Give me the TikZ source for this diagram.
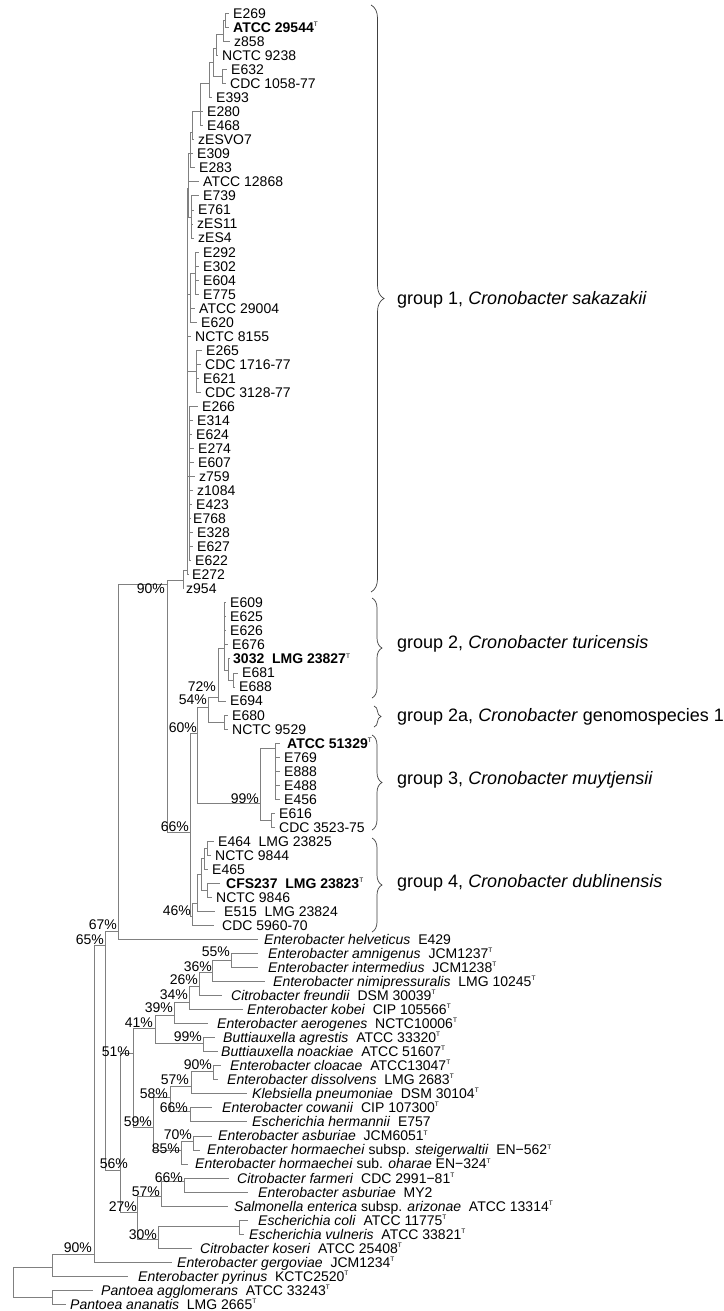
\documentclass[tikz,border=0pt]{standalone}
\usepackage{fontspec}
\setmainfont{Liberation Sans}
\usetikzlibrary{decorations.pathreplacing}
\newcommand\Ty{\raisebox{0.42em}{\fontsize{6.5}{6.5}\selectfont T}}
\newcommand\RR[1]{(13.5+14.03*(#1))}
\newcommand\leaf[5]{\coordinate (#1) at (#2,{13.5+14.03*#4});\node[lbl] (#1t) at (#3,{18.5+14.03*#4}) {#5};}
\newcommand\inode[3]{\coordinate (#1) at (#2,{#3});}
\newcommand\kids[2]{\foreach \c in {#2} {\draw[br] (#1) |- (\c);}}
\begin{document}
\begin{tikzpicture}[x=1pt,y=-1pt,
  lbl/.style={anchor=base west,inner sep=0pt,font=\fontsize{14}{14}\selectfont},
  bs/.style={anchor=east,inner sep=0pt,font=\fontsize{14}{14}\selectfont},
  grp/.style={anchor=west,inner sep=0pt,font=\fontsize{18}{18}\selectfont},
  br/.style={draw=black!50,line width=0.8pt},
  brc/.style={draw=black!75,line width=0.7pt,decorate,decoration={brace,amplitude=#1}}]
\useasboundingbox[fill=white] (0,0) rectangle (723,1311);
% ---------- group 1 leaves
\leaf{a1}{229}{233}{0}{E269}
\leaf{a2}{229}{233}{1}{\textbf{ATCC 29544}\Ty}
\leaf{a3}{230}{234}{2}{z858}
\leaf{a4}{218}{222}{3}{NCTC 9238}
\leaf{a5}{227}{231}{4}{E632}
\leaf{a6}{226}{230}{5}{CDC 1058-77}
\leaf{a7}{212}{216}{6}{E393}
\leaf{a8}{203}{207}{7}{E280}
\leaf{a9}{203}{207}{8}{E468}
\leaf{a10}{194}{198}{9}{zESVO7}
\leaf{a11}{193}{197}{10}{E309}
\leaf{a12}{195}{199}{11}{E283}
\leaf{a13}{199}{203}{12}{ATCC 12868}
\leaf{a14}{199}{203}{13}{E739}
\leaf{a15}{194}{198}{14}{E761}
\leaf{a16}{193}{197}{15}{zES11}
\leaf{a17}{194}{198}{16}{zES4}
\leaf{a18}{199}{203}{17}{E292}
\leaf{a19}{199}{203}{18}{E302}
\leaf{a20}{199}{203}{19}{E604}
\leaf{a21}{199}{203}{20}{E775}
\leaf{a22}{195}{199}{21}{ATCC 29004}
\leaf{a23}{197}{201}{22}{E620}
\leaf{a24}{191}{195}{23}{NCTC 8155}
\leaf{a25}{202}{206}{24}{E265}
\leaf{a26}{201}{205}{25}{CDC 1716-77}
\leaf{a27}{199}{203}{26}{E621}
\leaf{a28}{201}{205}{27}{CDC 3128-77}
\leaf{a29}{198}{202}{28}{E266}
\leaf{a30}{193}{197}{29}{E314}
\leaf{a31}{192}{196}{30}{E624}
\leaf{a32}{194}{198}{31}{E274}
\leaf{a33}{194}{198}{32}{E607}
\leaf{a34}{195}{199}{33}{z759}
\leaf{a35}{193}{197}{34}{z1084}
\leaf{a36}{192}{196}{35}{E423}
\leaf{a37}{190.5}{193}{36}{E768}
\leaf{a38}{193}{197}{37}{E328}
\leaf{a39}{193}{197}{38}{E627}
\leaf{a40}{191}{195}{39}{E622}
\leaf{a41}{189}{192}{40}{E272}
\leaf{a42}{184}{186}{41}{z954}
% ---------- group 2 / 2a
\leaf{b1}{226}{230}{42}{E609}
\leaf{b2}{226}{230}{43}{E625}
\leaf{b3}{226}{230}{44}{E626}
\leaf{b4}{228}{232}{45}{E676}
\leaf{b5}{230}{233}{46}{\textbf{3032\ \ LMG 23827}\Ty}
\leaf{b6}{238}{242}{47}{E681}
\leaf{b7}{235}{239}{48}{E688}
\leaf{b8}{226}{230}{49}{E694}
\leaf{b9}{228}{232}{50}{E680}
\leaf{b10}{228}{232}{51}{NCTC 9529}
% ---------- group 3
\leaf{c1}{280}{287}{52}{\textbf{ATCC 51329}\Ty}
\leaf{c2}{280}{284}{53}{E769}
\leaf{c3}{280}{284}{54}{E888}
\leaf{c4}{280}{284}{55}{E488}
\leaf{c5}{280}{284}{56}{E456}
\leaf{c6}{275}{279}{57}{E616}
\leaf{c7}{275}{279}{58}{CDC 3523-75}
% ---------- group 4
\leaf{d1}{214}{218}{59}{E464\ \ LMG 23825}
\leaf{d2}{211}{215}{60}{NCTC 9844}
\leaf{d3}{208}{212}{61}{E465}
\leaf{d4}{220}{226}{62}{\textbf{CFS237\ \ LMG 23823}\Ty}
\leaf{d5}{212}{216}{63}{NCTC 9846}
\leaf{d6}{215}{224}{64}{E515\ \ LMG 23824}
\leaf{d7}{214}{222}{65}{CDC 5960-70}
% ---------- outgroups
\leaf{e1}{258}{264}{66}{\textit{Enterobacter helveticus}\ \ E429}
\leaf{e2}{258}{268}{67}{\textit{Enterobacter amnigenus}\ \ JCM1237\Ty}
\leaf{e3}{258}{268}{68}{\textit{Enterobacter intermedius}\ \ JCM1238\Ty}
\leaf{e4}{265}{273}{69}{\textit{Enterobacter nimipressuralis}\ \ LMG 10245\Ty}
\leaf{e5}{222}{231}{70}{\textit{Citrobacter freundii}\ \ DSM 30039\Ty}
\leaf{e6}{243}{247}{71}{\textit{Enterobacter kobei}\ \ CIP 105566\Ty}
\leaf{e7}{208}{217}{72}{\textit{Enterobacter aerogenes}\ \ NCTC10006\Ty}
\leaf{e8}{215}{223}{73}{\textit{Buttiauxella agrestis}\ \ ATCC 33320\Ty}
\leaf{e9}{218}{221}{74}{\textit{Buttiauxella noackiae}\ \ ATCC 51607\Ty}
\leaf{e10}{221}{230}{75}{\textit{Enterobacter cloacae}\ \ ATCC13047\Ty}
\leaf{e11}{218}{227}{76}{\textit{Enterobacter dissolvens}\ \ LMG 2683\Ty}
\leaf{e12}{247}{252}{77}{\textit{Klebsiella pneumoniae}\ \ DSM 30104\Ty}
\leaf{e13}{212}{222}{78}{\textit{Enterobacter cowanii}\ \ CIP 107300\Ty}
\leaf{e14}{247}{252}{79}{\textit{Escherichia hermannii}\ \ E757}
\leaf{e15}{212}{218}{80}{\textit{Enterobacter asburiae}\ \ JCM6051\Ty}
\leaf{e16}{200}{207}{81}{\textit{Enterobacter hormaechei} subsp. \textit{steigerwaltii}\ \ EN−562\Ty}
\leaf{e17}{188}{195}{82}{\textit{Enterobacter hormaechei} sub. \textit{oharae} EN−324\Ty}
\leaf{e18}{229}{237}{83}{\textit{Citrobacter farmeri}\ \ CDC 2991−81\Ty}
\leaf{e19}{248}{258}{84}{\textit{Enterobacter asburiae}\ \ MY2}
\leaf{e20}{228}{234}{85}{\textit{Salmonella enterica} subsp. \textit{arizonae}\ \ ATCC 13314\Ty}
\leaf{e21}{248}{258}{86}{\textit{Escherichia coli}\ \ ATCC 11775\Ty}
\leaf{e22}{244}{249}{87}{\textit{Escherichia vulneris}\ \ ATCC 33821\Ty}
\leaf{e23}{192}{200}{88}{\textit{Citrobacter koseri}\ \ ATCC 25408\Ty}
\leaf{e24}{172}{177}{89}{\textit{Enterobacter gergoviae}\ \ JCM1234\Ty}
\leaf{e25}{128}{138}{90}{\textit{Enterobacter pyrinus}\ \ KCTC2520\Ty}
\leaf{e26}{93}{101}{91}{\textit{Pantoea agglomerans}\ \ ATCC 33243\Ty}
\leaf{e27}{66}{70}{92}{\textit{Pantoea ananatis}\ \ LMG 2665\Ty}
% ---------- internal nodes, group 1
\inode{t1}{225}{\RR{0.5}}
\inode{t2}{223}{\RR{1.5}}
\inode{t3}{216}{\RR{2.5}}
\inode{t4}{222}{\RR{4.5}}
\inode{t5}{213}{\RR{3.5}}
\inode{t6}{209}{\RR{5}}
\inode{t7}{200}{\RR{7}}
\inode{t8}{192}{\RR{8.5}}
\inode{t9}{190}{\RR{10}}
\inode{t11}{191}{\RR{14.5}}
\inode{t10}{188}{\RR{12.5}}
\inode{u1}{195}{\RR{18.5}}
\inode{u2}{190}{\RR{20}}
\inode{v1}{196}{\RR{25.5}}
\inode{w1}{189}{\RR{33}}
\inode{P}{187}{570}
\inode{g1}{183}{580}
% group 2-4
\inode{J}{233}{\RR{47.5}}
\inode{I}{228}{\RR{46.8}}
\inode{H}{224}{648}
\inode{n72}{218}{697}
\inode{G}{224}{\RR{50.5}}
\inode{n54}{208}{707}
\inode{E}{275}{748}
\inode{F}{271}{\RR{57.5}}
\inode{n99}{260}{803}
\inode{n60}{197}{733}
\inode{C1}{207}{\RR{59.5}}
\inode{C}{204}{858}
\inode{D}{207}{\RR{62.5}}
\inode{B}{201}{874}
\inode{A}{197.5}{903}
\inode{n46}{192}{916}
\inode{n66}{190}{832}
\inode{n90}{167}{584}
\inode{n67}{118}{931}
% outgroups
\inode{o55}{231}{960.5}
\inode{o36}{212}{972}
\inode{o26}{199}{986}
\inode{o34}{189}{1002}
\inode{o39}{174}{1015}
\inode{ob}{203}{1043}
\inode{o41}{155}{1028}
\inode{o90c}{213}{1071}
\inode{o57}{191}{1086}
\inode{o66c}{190}{1111}
\inode{o58}{170}{1097}
\inode{o70}{193}{1141}
\inode{o85}{181}{1150}
\inode{o59}{153}{1127}
\inode{o51}{133}{1053}
\inode{o66f}{184}{1181}
\inode{o57f}{161}{1196}
\inode{ocv}{239}{1226}
\inode{o30}{158}{1239}
\inode{o27}{137}{1212}
\inode{o56}{120}{1170}
\inode{o65}{105}{945}
\inode{o90r}{94}{1254}
\inode{opy}{52}{1267}
\inode{opa}{52}{1297}
\inode{root}{13}{1282}
% ---------- branches
\kids{t1}{a1,a2}
\kids{t2}{t1,a3}
\kids{t3}{t2,a4}
\kids{t4}{a5,a6}
\kids{t5}{t3,t4}
\kids{t6}{t5,a7}
\kids{t7}{t6,a8,a9}
\kids{t8}{t7,a10}
\kids{t9}{t8,a11,a12}
\kids{t11}{a14,a15,a16,a17}
\kids{t10}{t9,a13,t11}
\kids{u1}{a18,a19,a20,a21}
\kids{u2}{u1,a22,a23}
\kids{v1}{a25,a26,a27,a28}
\kids{w1}{a29,a30,a31,a32,a33,a34,a35,a36,a37,a38,a39,a40}
\kids{P}{t10,u2,a24,v1,w1,a41}
\kids{g1}{P,a42}
\kids{J}{b6,b7}
\kids{I}{b5,J}
\kids{H}{b1,b2,b3,b4,I}
\kids{n72}{H,b8}
\kids{G}{b9,b10}
\kids{n54}{n72,G}
\kids{E}{c1,c2,c3,c4,c5}
\kids{F}{c6,c7}
\kids{n99}{E,F}
\kids{n60}{n54,n99}
\kids{C1}{d1,d2}
\kids{C}{C1,d3}
\kids{D}{d4,d5}
\kids{B}{C,D}
\kids{A}{B,d6}
\kids{n46}{A,d7}
\kids{n66}{n60,n46}
\kids{n90}{g1,n66}
\kids{n67}{n90,e1}
\kids{o55}{e2,e3}
\kids{o36}{o55,e4}
\kids{o26}{o36,e5}
\kids{o34}{o26,e6}
\kids{o39}{o34,e7}
\kids{ob}{e8,e9}
\kids{o41}{o39,ob}
\kids{o90c}{e10,e11}
\kids{o57}{o90c,e12}
\kids{o66c}{e13,e14}
\kids{o58}{o57,o66c}
\kids{o70}{e15,e16}
\kids{o85}{o70,e17}
\kids{o59}{o58,o85}
\kids{o51}{o41,o59}
\kids{o66f}{e18,e19}
\kids{o57f}{o66f,e20}
\kids{ocv}{e21,e22}
\kids{o30}{ocv,e23}
\kids{o27}{o57f,o30}
\kids{o56}{o51,o27}
\kids{o65}{n67,o56}
\kids{o90r}{o65,e24}
\kids{opy}{o90r,e25}
\kids{opa}{e26,e27}
\kids{root}{opy,opa}
% ---------- bootstrap values
\node[bs] (s1) at (165,589) {90\%};
\node[bs] (s2) at (216,687) {72\%};
\node[bs] (s3) at (207,700) {54\%};
\node[bs] (s4) at (197,728) {60\%};
\node[bs] (s5) at (259,799) {99\%};
\node[bs] (s6) at (189,827) {66\%};
\node[bs] (s7) at (191,911) {46\%};
\node[bs] (s8) at (117,925) {67\%};
\node[bs] (s9) at (104,940) {65\%};
\node[bs] (s10) at (230,952) {55\%};
\node[bs] (s11) at (212,967) {36\%};
\node[bs] (s12) at (198,980) {26\%};
\node[bs] (s13) at (188,995) {34\%};
\node[bs] (s14) at (173,1008) {39\%};
\node[bs] (s15) at (153,1023) {41\%};
\node[bs] (s16) at (202,1037) {99\%};
\node[bs] (s17) at (130,1052) {51\%};
\node[bs] (s18) at (212,1065) {90\%};
\node[bs] (s19) at (189,1080) {57\%};
\node[bs] (s20) at (168,1094) {58\%};
\node[bs] (s21) at (188,1108) {66\%};
\node[bs] (s22) at (152,1122) {59\%};
\node[bs] (s23) at (192,1135) {70\%};
\node[bs] (s24) at (180,1149) {85\%};
\node[bs] (s25) at (128,1164) {56\%};
\node[bs] (s26) at (183,1178) {66\%};
\node[bs] (s27) at (160,1192) {57\%};
\node[bs] (s28) at (137,1207) {27\%};
\node[bs] (s29) at (157,1235) {30\%};
\node[bs] (s30) at (92,1248) {90\%};
% ---------- group braces and names
\draw[brc=13] (371,5) -- (371,592);
\draw[brc=10] (372,598) -- (372,698);
\draw[brc=7] (374,706) -- (374,727);
\draw[brc=10] (372,735) -- (372,830);
\draw[brc=10] (372,838) -- (372,932);
\node[grp] (G1) at (397,300) {group 1, \textit{Cronobacter sakazakii}};
\node[grp] (G2) at (397,644) {group 2, \textit{Cronobacter turicensis}};
\node[grp] (G2a) at (397,717) {group 2a, \textit{Cronobacter} genomospecies 1};
\node[grp] (G3) at (397,780) {group 3, \textit{Cronobacter muytjensii}};
\node[grp] (G4) at (397,883) {group 4, \textit{Cronobacter dublinensis}};
\end{tikzpicture}
\end{document}
